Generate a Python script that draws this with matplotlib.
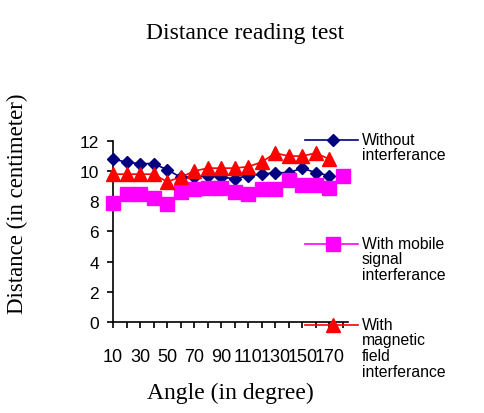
import numpy as np
import matplotlib.pyplot as plt
from matplotlib.lines import Line2D

# angles (degree) and measured distances (cm)
angles = [10, 20, 30, 40, 50, 60, 70, 80, 90, 100, 110, 120, 130, 140, 150, 160, 170, 180]
without_interf = [10.8, 10.6, 10.5, 10.5, 10.1, 9.6, 9.6, 9.7, 9.6, 9.5, 9.7, 9.8, 9.9, 9.9, 10.2, 9.9, 9.7]
mobile_interf = [7.9, 8.5, 8.5, 8.2, 7.8, 8.6, 8.8, 8.9, 8.9, 8.6, 8.5, 8.8, 8.8, 9.4, 9.1, 9.1, 8.9, 9.7]
magnetic_interf = [9.8, 9.8, 9.8, 9.8, 9.3, 9.6, 10.0, 10.2, 10.2, 10.2, 10.3, 10.6, 11.2, 11.0, 11.0, 11.2, 10.8]

series_names = ["Without\ninterferance", "With mobile\nsignal\ninterferance", "With\nmagnetic\nfield\ninterferance"]
series_colors = ["#000080", "#FF00FF", "#FF0000"]
series_markers = ["D", "s", "^"]
series_msize = [6.5, 10, 9.5]

serif = "Liberation Serif"
sans = "Liberation Sans"

# a. figure and axes
fig = plt.figure(figsize=(4.85, 4.14), dpi=100)
ax = fig.add_axes([0.233, 0.220, 0.485, 0.437])

# b. plot the three series on category positions
series = [without_interf, mobile_interf, magnetic_interf]
for vals, c, m, ms in zip(series, series_colors, series_markers, series_msize):
    x = np.arange(len(vals))
    ax.plot(x, vals, color=c, marker=m, markersize=ms, linewidth=1.2,
            markeredgecolor=c, clip_on=False, zorder=3)

# c. axes styling
ax.set_xlim(0, 17.4)
ax.set_ylim(0, 12)
for s in ["top", "right"]:
    ax.spines[s].set_visible(False)
for s in ["left", "bottom"]:
    ax.spines[s].set_linewidth(1.2)

ax.set_xticks(np.arange(len(angles)))
ax.set_xticklabels([str(a) if i % 2 == 0 else "" for i, a in enumerate(angles)],
                   fontfamily=sans, fontsize=13)
ax.set_yticks(np.arange(0, 13, 2))
ax.set_yticklabels([str(v) for v in range(0, 13, 2)], fontfamily=sans, fontsize=12.5)
ax.tick_params(axis="both", direction="out", length=4, width=1.2, pad=6)
ax.tick_params(axis="x", pad=15)

# d. titles
fig.text(0.505, 0.918, "Distance reading test", fontfamily=serif, fontsize=17,
         ha="center", va="center")
fig.text(0.037, 0.508, "Distance (in centimeter)", fontfamily=serif, fontsize=16.5,
         rotation=90, ha="center", va="center")
fig.text(0.474, 0.05, "Angle (in degree)", fontfamily=serif, fontsize=17,
         ha="center", va="center")

# e. legend drawn by hand (marker lined up with first text line)
leg_y = [1 - 141 / 414, 1 - 245 / 414, 1 - 326 / 414]
x0, x1, xm, xt = 305 / 485, 358 / 485, 333 / 485, 362 / 485
for name, c, m, ms, y in zip(series_names, series_colors, series_markers, series_msize, leg_y):
    fig.add_artist(Line2D([x0, x1], [y, y], color=c, linewidth=1.2, transform=fig.transFigure))
    fig.add_artist(Line2D([xm], [y], color=c, marker=m, markersize=ms,
                          markeredgecolor=c, transform=fig.transFigure))
    fig.text(xt, y + 0.02, name, fontfamily=sans, fontsize=11.3, ha="left", va="top",
             linespacing=1.05)

fig.savefig("out.png", dpi=100)
